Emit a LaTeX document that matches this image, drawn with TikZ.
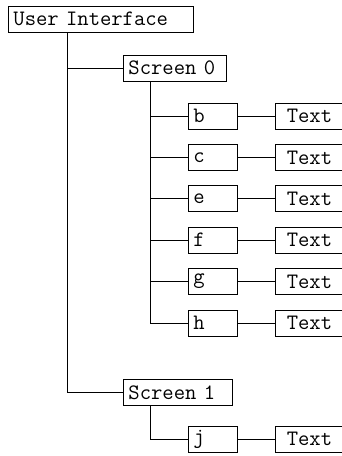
\documentclass[tikz,border=0pt]{standalone}
\usepackage{fontspec}
\begin{document}
\begin{tikzpicture}[x=1pt,y=-1pt,
  box/.style={draw,line width=0.9pt,anchor=west,minimum height=26pt,inner xsep=5pt,inner ysep=0pt,
    font=\ttfamily\fontsize{22}{23}\selectfont,align=left},
  leaf/.style={box,align=center,text width=58pt},
  conn/.style={line width=0.9pt}]
\useasboundingbox (0,0) rectangle (341,456);
\node[box,text width=175pt] (ui) at (8,19) {User Interface};
\node[box,text width=93pt] (s0) at (123,68) {Screen 0};
\node[box,text width=99pt] (s1) at (123,392.5) {Screen 1};
\foreach \n/\y in {b/116,c/157.4,e/198.8,f/240.2,g/281.6,h/323,j/439}{
  \node[box,text width=39pt] (\n) at (188,\y) {\n};
  \node[leaf] (t\n) at (275,\y) {Text};
  \draw[conn] (\n) -- (t\n);
}
\draw[conn] ([xshift=59.5pt]ui.south west) |- (s0.west);
\draw[conn] ([xshift=59.5pt]ui.south west) |- (s1.west);
\foreach \n in {b,c,e,f,g,h}{
  \draw[conn] ([xshift=27pt]s0.south west) |- (\n.west);
}
\draw[conn] ([xshift=27pt]s1.south west) |- (j.west);
\end{tikzpicture}
\end{document}
